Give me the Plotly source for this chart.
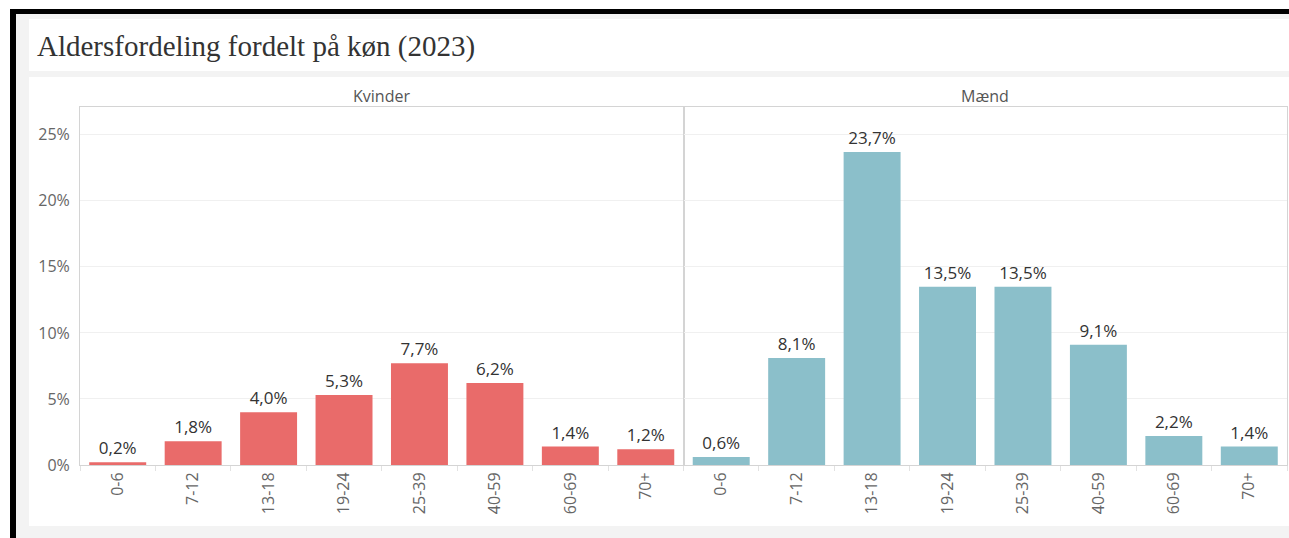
import plotly.graph_objects as go
from plotly.subplots import make_subplots

age_groups = ["0-6", "7-12", "13-18", "19-24", "25-39", "40-59", "60-69", "70+"]
kvinder = [0.2, 1.8, 4.0, 5.3, 7.7, 6.2, 1.4, 1.2]
maend = [0.6, 8.1, 23.7, 13.5, 13.5, 9.1, 2.2, 1.4]
panel_titles = ["Kvinder", "Mænd"]
y_ticks = [0, 5, 10, 15, 20, 25]
y_ticktext = ["0%", "5%", "10%", "15%", "20%", "25%"]
title_text = "Aldersfordeling fordelt på køn (2023)"

W, H = 1289, 538
ML, MR, MT, MB = 80, 2, 107, 73
PW = W - ML - MR
PH = H - MT - MB

def px(x):
    return (x - ML) / PW

def py(y):
    return (H - MB - y) / PH

fig = make_subplots(rows=1, cols=2, shared_yaxes=True, horizontal_spacing=0,
                    subplot_titles=panel_titles)

colors = ["#E96B6A", "#8BBFCA"]
for i, vals in enumerate([kvinder, maend]):
    fig.add_trace(go.Bar(
        x=age_groups, y=vals, marker=dict(color=colors[i], line=dict(width=0)),
        text=vals, texttemplate="%{y:.1f}%", textposition="outside",
        textfont=dict(family="Open Sans", size=17, color="#333333"),
        cliponaxis=False, showlegend=False, hoverinfo="skip"),
        row=1, col=i + 1)

fig.update_layout(
    width=W, height=H, margin=dict(l=ML, r=MR, t=MT, b=MB),
    paper_bgcolor="white", plot_bgcolor="white",
    separators=",.", bargap=0.245, uniformtext=dict(minsize=17, mode="show"),
    font=dict(family="Open Sans", color="#666666"),
)

fig.update_yaxes(range=[0, 27.1], tickvals=y_ticks, ticktext=y_ticktext,
                 showgrid=True, gridcolor="#F0F0F0", gridwidth=1,
                 zeroline=False, showline=True, linecolor="#D4D4D4", linewidth=1,
                 mirror=True, ticks="", tickfont=dict(size=16, color="#666666"),
                 ticklabelstandoff=6)
fig.update_xaxes(tickangle=-90, tickson="boundaries", ticks="outside", ticklen=5,
                 tickcolor="#E2E2E2", showline=True, linecolor="#D4D4D4", linewidth=1,
                 mirror=True, showgrid=False, tickfont=dict(size=16, color="#666666"))

for ann in fig.layout.annotations:
    ann.font = dict(family="Open Sans", size=16, color="#555555")
    ann.yshift = -2

shapes = [
    dict(type="rect", xref="paper", yref="paper", x0=px(16), x1=px(W + 5), y0=py(14), y1=py(H + 5),
         fillcolor="#F3F3F3", line=dict(width=0), layer="below"),
    dict(type="rect", xref="paper", yref="paper", x0=px(29), x1=px(W + 5), y0=py(19), y1=py(71),
         fillcolor="white", line=dict(width=0), layer="below"),
    dict(type="rect", xref="paper", yref="paper", x0=px(29), x1=px(W + 5), y0=py(77), y1=py(526),
         fillcolor="white", line=dict(width=0), layer="below"),
    dict(type="rect", xref="paper", yref="paper", x0=px(10), x1=px(16), y0=py(9), y1=py(H + 5),
         fillcolor="black", line=dict(width=0), layer="below"),
    dict(type="rect", xref="paper", yref="paper", x0=px(10), x1=px(W + 5), y0=py(9), y1=py(14),
         fillcolor="black", line=dict(width=0), layer="below"),
]
fig.update_layout(shapes=shapes)

fig.add_annotation(text=title_text, xref="paper", yref="paper", x=px(35), y=py(46),
                   xanchor="left", yanchor="middle", showarrow=False,
                   font=dict(family="Liberation Serif", size=29, color="#333333"))

fig.write_html("out.html", config={"displayModeBar": False},
               post_script="document.body.style.margin='0px';document.body.style.overflow='hidden';")
